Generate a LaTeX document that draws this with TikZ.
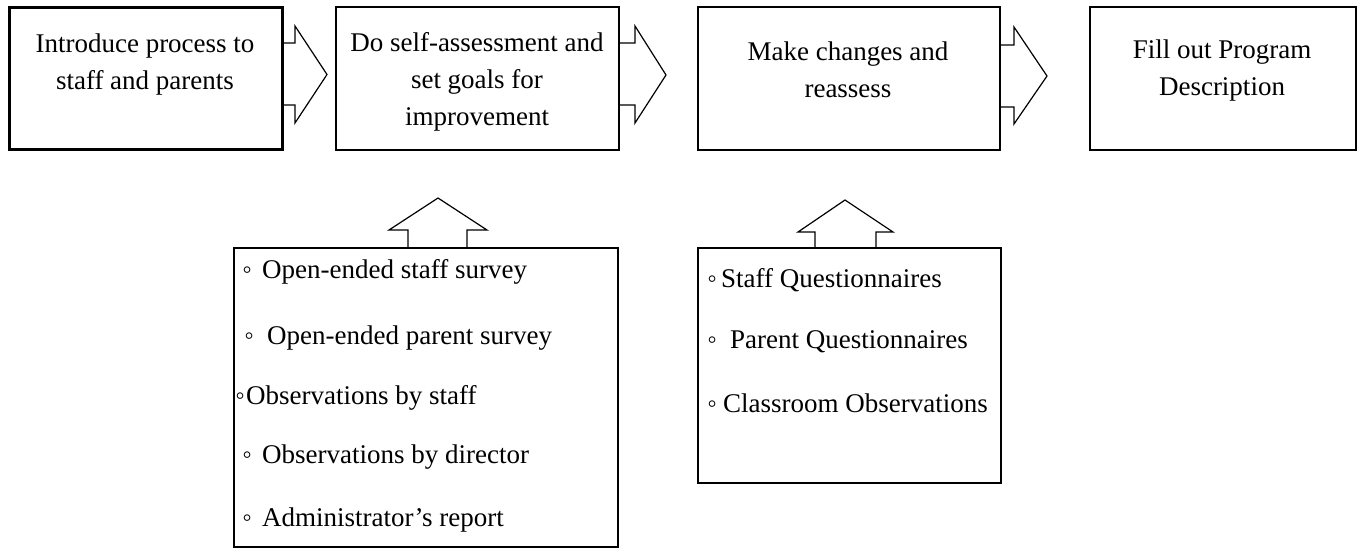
\documentclass[tikz,border=0pt]{standalone}
\usepackage{fontspec}
\setmainfont{Liberation Serif}
\usetikzlibrary{calc}
\tikzset{
  stepbox/.style={draw=black, line width=1.8pt, fill=none, inner sep=0pt, anchor=north west},
  blockarrow/.style={draw=black, line width=1.2pt, line join=miter},
  boxtext/.style={inner sep=0pt, align=center, font=\fontsize{27}{37}\selectfont},
  itemtext/.style={inner sep=0pt, anchor=west, font=\fontsize{27}{32}\selectfont}
}
\newcommand{\itm}[2]{\makebox[0pt]{◦}\hspace{#1pt}#2}
\begin{document}
\begin{tikzpicture}[x=1pt,y=-1pt]
\useasboundingbox (0,0) rectangle (1363,547);
% top boxes
\node[stepbox, line width=2.5pt, minimum width=273pt, minimum height=142pt] (b1) at (8,6) {};
\node[stepbox, minimum width=283pt, minimum height=143pt] (b2) at (335,6) {};
\node[stepbox, minimum width=302pt, minimum height=143pt] (b3) at (697,6) {};
\node[stepbox, minimum width=266pt, minimum height=143pt] (b4) at (1089,6) {};
% lower boxes
\node[stepbox, minimum width=384pt, minimum height=299pt] (l1) at (233,247) {};
\node[stepbox, minimum width=303pt, minimum height=235pt] (l2) at (697,247) {};
% box texts
\node[boxtext] (t1) at (145,64.5) {Introduce process to\\staff and parents};
\node[boxtext] (t2) at (477,82) {Do self-assessment and\\set goals for\\improvement};
\node[boxtext] (t3) at (848,69.5) {Make changes and\\reassess};
\node[boxtext] (t4) at (1222,70.5) {Fill out Program\\Description};
% right block arrows
\draw[blockarrow] (b1.east |- 0,43) -- (295,43) -- (295,26) -- (327,74.5) -- (295,123) -- (295,105) -- (b1.east |- 0,105);
\draw[blockarrow] (b2.east |- 0,43) -- (635,43) -- (635,26) -- (666,75) -- (635,123) -- (635,105) -- (b2.east |- 0,105);
\draw[blockarrow] (b3.east |- 0,45) -- (1014,45) -- (1014,27) -- (1047,76) -- (1014,124) -- (1014,107) -- (b3.east |- 0,107);
% up block arrows
\draw[blockarrow] (l1.north -| 408,0) -- (408,230) -- (389,230) -- (438,198) -- (487,230) -- (467,230) -- (l1.north -| 467,0);
\draw[blockarrow] (l2.north -| 815,0) -- (815,232) -- (798,232) -- (845,200) -- (893,232) -- (876,232) -- (l2.north -| 876,0);
% lower box 1 items
\node[itemtext] (i1) at (247,272) {\itm{15}{Open-ended staff survey}};
\node[itemtext] (i2) at (249,338) {\itm{18}{Open-ended parent survey}};
\node[itemtext] (i3) at (240,398) {\itm{6}{Observations by staff}};
\node[itemtext] (i4) at (247,457) {\itm{15}{Observations by director}};
\node[itemtext] (i5) at (247,520) {\itm{15}{Administrator’s report}};
% lower box 2 items
\node[itemtext] (j1) at (712,280) {\itm{9}{Staff Questionnaires}};
\node[itemtext] (j2) at (712,342) {\itm{18}{Parent Questionnaires}};
\node[itemtext] (j3) at (712,403) {\itm{11}{Classroom Observations}};
\end{tikzpicture}
\end{document}
